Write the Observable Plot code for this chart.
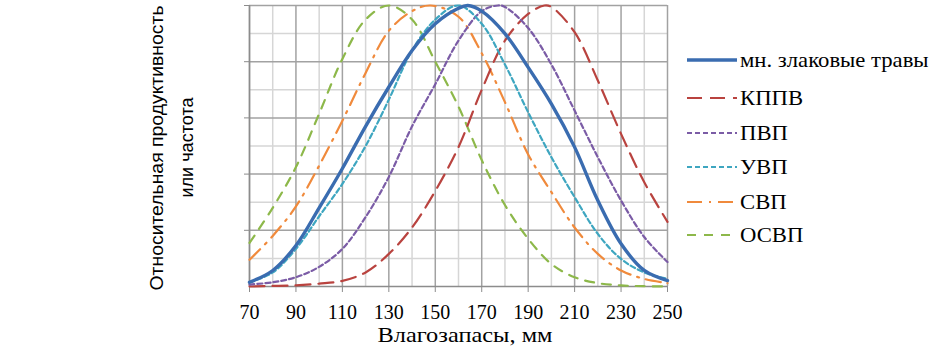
<!DOCTYPE html>
<html><head><meta charset="utf-8">
<script src="https://cdn.jsdelivr.net/npm/d3@7"></script>
<script src="https://cdn.jsdelivr.net/npm/@observablehq/plot@0.6"></script>
<style>
body{margin:0;background:#fff;}
#wrap{position:relative;width:936px;height:354px;overflow:hidden;background:#fff;}
#legend{position:absolute;left:0;top:0;font-family:"Liberation Serif","Times New Roman",serif;font-size:21px;color:#000;}
.row{position:absolute;display:flex;align-items:center;white-space:nowrap;height:24px;}
.row svg{display:block;margin-right:2px;}
.row span{display:inline-block;transform:scaleX(1.08);transform-origin:left center;}
</style></head><body>
<div id="wrap"><div id="chart"></div><div id="legend"></div></div>
<script>
// ---- data ----
const seriesNames = ["мн. злаковые травы", "КППВ", "ПВП", "УВП", "СВП", "ОСВП"];
const xTicks = [70, 90, 110, 130, 150, 170, 190, 210, 230, 250];
const xLabel = "Влагозапасы, мм";
const yLabel1 = "Относительная продуктивность";
const yLabel2 = "или частота";

const grassX = [70,80,90,100,110,120,130,140,150,160,164,170,180,190,200,210,220,230,240,250];
const grassY = [0.015,0.057,0.146,0.28,0.42,0.57,0.71,0.84,0.935,0.99,1.0,0.98,0.9,0.78,0.65,0.496,0.306,0.152,0.057,0.021];

const kppvX = [70,80,90,100,110,120,130,140,150,160,170,180,190,197,200,210,220,230,240,250];
const kppvY = [0,0.002,0.004,0.01,0.02,0.05,0.116,0.21,0.34,0.496,0.70,0.875,0.97,1.0,0.995,0.905,0.733,0.543,0.371,0.23];

const pvpX = [70,80,90,100,110,120,130,140,150,160,170,177,180,190,200,210,220,230,240,250];
const pvpY = [0.007,0.015,0.033,0.07,0.134,0.247,0.39,0.57,0.72,0.875,0.98,1.0,0.995,0.92,0.79,0.626,0.46,0.306,0.176,0.087];

const uvpX = [70,80,90,100,110,120,130,140,150,160,170,180,190,200,210,220,230,240,250];
const uvpY = [0.015,0.05,0.134,0.25,0.365,0.5,0.665,0.84,0.95,1.0,0.935,0.79,0.62,0.46,0.318,0.187,0.098,0.05,0.027];

const svpX = [70,80,90,100,110,120,130,140,148,160,170,180,190,200,210,220,230,240,250];
const svpY = [0.095,0.18,0.285,0.43,0.59,0.76,0.91,0.98,1.0,0.96,0.83,0.656,0.47,0.336,0.21,0.116,0.057,0.027,0.012];

const osvpX = [70,80,90,100,110,120,130,140,150,160,170,180,190,200,210,220,230,240,250];
const osvpY = [0.155,0.28,0.425,0.615,0.81,0.95,1.0,0.95,0.80,0.64,0.45,0.29,0.17,0.08,0.033,0.012,0.004,0.001,0];

const seriesX = [grassX, kppvX, pvpX, uvpX, svpX, osvpX];
const seriesY = [grassY, kppvY, pvpY, uvpY, svpY, osvpY];

// ---- styles ----
const styles = [
  {stroke: "#3a6cb0", strokeWidth: 3.4, dash: null},
  {stroke: "#b9433f", strokeWidth: 2.2, dash: "15,8"},
  {stroke: "#7b5ca6", strokeWidth: 2.2, dash: "5,3"},
  {stroke: "#3ea6c0", strokeWidth: 2.2, dash: "5,3"},
  {stroke: "#f08a3c", strokeWidth: 2.2, dash: "15,7,2,7"},
  {stroke: "#8db84a", strokeWidth: 2.2, dash: "9,8"}
];

const rows = [];
seriesNames.forEach((name, k) => {
  seriesX[k].forEach((x, i) => rows.push({series: name, x, y: seriesY[k][i]}));
});

const drawOrder = [5, 4, 1, 2, 3, 0];
const lineMarks = drawOrder.map(k => Plot.line(rows.filter(d => d.series === seriesNames[k]), {
  x: "x", y: "y", curve: "catmull-rom",
  stroke: styles[k].stroke, strokeWidth: styles[k].strokeWidth,
  strokeDasharray: styles[k].dash || undefined
}));

const serif = "'Liberation Serif', 'Times New Roman', serif";
const sans = "'Liberation Sans', Arial, sans-serif";

const chart = Plot.plot({
  width: 936, height: 354,
  marginLeft: 249, marginRight: 269, marginTop: 5, marginBottom: 68,
  x: {domain: [70, 250]},
  y: {domain: [0, 1]},
  style: {fontFamily: serif, fontSize: "20px", background: "#fff", color: "#000", overflow: "visible"},
  marks: [
    Plot.gridX([80, 100, 120, 140, 160, 180, 200, 220, 240], {stroke: "#d6d6d6", strokeOpacity: 1, strokeWidth: 1.5}),
    Plot.gridY([0.1, 0.3, 0.5, 0.7, 0.9], {stroke: "#d6d6d6", strokeOpacity: 1, strokeWidth: 1.5}),
    Plot.gridX(xTicks, {stroke: "#a2a2a2", strokeOpacity: 1, strokeWidth: 1.5}),
    Plot.gridY([0.2, 0.4, 0.6, 0.8, 1.0], {stroke: "#a2a2a2", strokeOpacity: 1, strokeWidth: 1.5}),
    Plot.ruleY([0], {stroke: "#8c8c8c", strokeWidth: 1.5}),
    Plot.ruleX([70], {stroke: "#8c8c8c", strokeWidth: 1.5}),
    Plot.axisX({ticks: xTicks, tickSize: 6, tickPadding: 12, tickFormat: d3.format("d"), label: null, stroke: "#8c8c8c", fill: "#000"}),
    Plot.axisY({ticks: [0.2, 0.4, 0.6, 0.8, 1.0], tickSize: 5, tickFormat: () => "", label: null, stroke: "#8c8c8c"}),
    ...lineMarks,
    Plot.text([xLabel], {frameAnchor: "bottom", textAnchor: "start", dx: -81, dy: 55, fontSize: 21, fill: "#000"}),
    Plot.text([yLabel1], {frameAnchor: "left", textAnchor: "start", dx: -92, dy: 144.5, rotate: -90, fontFamily: sans, fontSize: 18, fill: "#000"}),
    Plot.text([yLabel2], {frameAnchor: "left", textAnchor: "start", dx: -62, dy: 51.5, rotate: -90, fontFamily: sans, fontSize: 18, fill: "#000"})
  ]
});
document.getElementById("chart").appendChild(chart);

const svg = d3.select(chart);
function stretch(label, len) {
  svg.selectAll("text").filter(function() { return this.textContent === label; })
    .attr("text-anchor", "start").attr("textLength", len).attr("lengthAdjust", "spacingAndGlyphs");
}
stretch(xLabel, 175);
stretch(yLabel1, 285);
stretch(yLabel2, 100);

// ---- legend ----
const legendTops = [60, 98, 133, 167, 202, 235];
const legend = d3.select("#legend");
seriesNames.forEach((name, k) => {
  const row = legend.append("div").attr("class", "row")
    .style("left", "686px").style("top", (legendTops[k] - 12) + "px");
  const s = row.append("svg").attr("width", 52).attr("height", 24);
  s.append("line").attr("x1", 1).attr("x2", 51).attr("y1", 12).attr("y2", 12)
    .attr("stroke", styles[k].stroke).attr("stroke-width", styles[k].strokeWidth)
    .attr("stroke-dasharray", styles[k].dash);
  row.append("span").text(name);
});
</script>
</body></html>
